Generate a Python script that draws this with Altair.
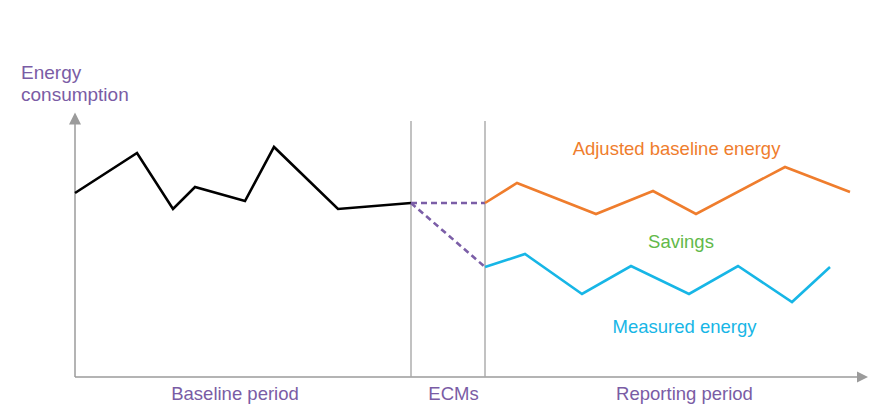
import altair as alt
import pandas as pd

# Schematic units: time from axis origin (x), energy from axis origin (y)
baseline_t = [0, 62, 98, 120, 170, 199, 263, 336]
baseline_e = [184, 224, 168, 190, 176, 230, 168, 174]
adjusted_t = [410, 442, 521, 578, 621, 710, 775]
adjusted_e = [174, 194, 163, 186, 163, 210, 185]
measured_t = [410, 450, 507, 556, 614, 663, 717, 755]
measured_e = [110, 123, 83, 111, 83, 111, 75, 110]
ecm_start, ecm_end = 336, 410

label_text = ["Energy", "consumption", "Adjusted baseline energy", "Savings",
              "Measured energy", "Baseline period", "ECMs", "Reporting period"]
label_x = [-54, -54, 601.5, 606, 609.5, 160, 378.5, 609.5]
label_y = [298, 276, 222, 129, 44, -23, -23, -23]
label_align = ["left", "left", "center", "center", "center", "center", "center", "center"]
label_size = [19, 19, 18.5, 18.5, 18.5, 18.5, 18.5, 18.5]
label_color = ["#7a5ca5", "#7a5ca5", "#ef7d2d", "#62b94a", "#17b6e6",
               "#7a5ca5", "#7a5ca5", "#7a5ca5"]

W, H = 862, 396
xs = alt.Scale(domain=[-67, 795], nice=False, zero=False)
ys = alt.Scale(domain=[-27, 369], nice=False, zero=False)

def X(f="x"):
    return alt.X(f"{f}:Q", scale=xs, axis=None)

def Y(f="y"):
    return alt.Y(f"{f}:Q", scale=ys, axis=None)

base_df = pd.DataFrame({"x": baseline_t, "y": baseline_e})
adj_df = pd.DataFrame({"x": adjusted_t, "y": adjusted_e})
mea_df = pd.DataFrame({"x": measured_t, "y": measured_e})
dash_df = pd.DataFrame({
    "x": [ecm_start, ecm_end, ecm_start, ecm_end],
    "y": [baseline_e[-1], adjusted_e[0], baseline_e[-1], measured_e[0]],
    "g": ["a", "a", "b", "b"],
})

axis_gray = "#9b9b9b"
axes_df = pd.DataFrame({"x": [0, 0], "y": [0, 0], "x2": [0, 782], "y2": [253, 0]})
axes = alt.Chart(axes_df).mark_rule(color=axis_gray, strokeWidth=1.5).encode(
    x=X(), y=Y(), x2="x2:Q", y2="y2:Q")

arrow_up = alt.Chart(pd.DataFrame({"x": [0], "y": [258.5]})).mark_point(
    shape="M-1,1L0,-1L1,1Z", size=144, filled=True, color=axis_gray, opacity=1
).encode(x=X(), y=Y())
arrow_right = alt.Chart(pd.DataFrame({"x": [787.5], "y": [0]})).mark_point(
    shape="M-1,-1L1,0L-1,1Z", size=121, filled=True, color=axis_gray, opacity=1
).encode(x=X(), y=Y())

vlines_df = pd.DataFrame({"x": [ecm_start, ecm_end], "y": [0, 0], "y2": [256, 256]})
vlines = alt.Chart(vlines_df).mark_rule(color="#a8a8a8", strokeWidth=1.4).encode(
    x=X(), y=Y(), y2="y2:Q")

black = alt.Chart(base_df).mark_line(color="#000000", strokeWidth=2.6).encode(
    x=X(), y=Y(), order="x:Q")
orange = alt.Chart(adj_df).mark_line(color="#ef7d2d", strokeWidth=2.6).encode(
    x=X(), y=Y(), order="x:Q")
blue = alt.Chart(mea_df).mark_line(color="#17b6e6", strokeWidth=2.6).encode(
    x=X(), y=Y(), order="x:Q")
dashed = alt.Chart(dash_df).mark_line(color="#7b5ea7", strokeWidth=2.6, strokeDash=[6, 4]).encode(
    x=X(), y=Y(), detail="g:N", order="x:Q")

lab_df = pd.DataFrame({"t": label_text, "x": label_x, "y": label_y,
                       "a": label_align, "s": label_size, "c": label_color})
texts = []
for al in ["left", "center"]:
    texts.append(
        alt.Chart(lab_df[lab_df["a"] == al]).mark_text(
            align=al, baseline="alphabetic", font="Liberation Sans"
        ).encode(x=X(), y=Y(), text="t:N",
                 size=alt.Size("s:Q", scale=None, legend=None),
                 color=alt.Color("c:N", scale=None, legend=None))
    )

chart = alt.layer(axes, arrow_up, arrow_right, vlines, black, dashed, orange, blue,
                  *texts).properties(
    width=W, height=H, autosize="none", padding=0, background="white"
).configure_view(strokeWidth=0)

chart.save("out.html", embed_options={"renderer": "svg", "actions": False})
